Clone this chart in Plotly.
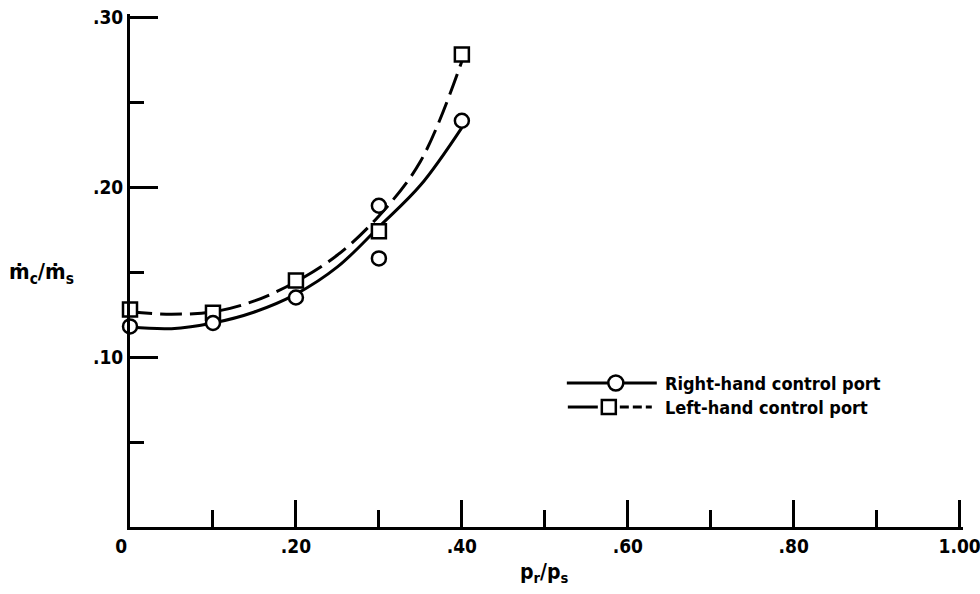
import plotly.graph_objects as go

# ---- data ----
p_ratio = [0.0, 0.1, 0.2, 0.3, 0.3, 0.4]
right_hand = [0.118, 0.120, 0.135, 0.189, 0.158, 0.239]
p_ratio_left = [0.0, 0.1, 0.2, 0.3, 0.4]
left_hand = [0.128, 0.126, 0.145, 0.174, 0.278]

# faired curves
curve_x = [0.0, 0.05, 0.1, 0.15, 0.2, 0.25, 0.3, 0.35, 0.4]
curve_right = [0.1176, 0.1167, 0.1200, 0.1265, 0.1370, 0.1530, 0.1765, 0.2010, 0.2350]
curve_left = [0.1266, 0.1252, 0.1266, 0.1330, 0.1443, 0.1600, 0.1830, 0.2150, 0.2740]

x_tickvals = [0, 0.2, 0.4, 0.6, 0.8, 1.0]
x_ticktext = ["0&nbsp;&nbsp;&nbsp;", ".20", ".40", ".60", ".80", "1.00"]
y_tickvals = [0.1, 0.2, 0.3]
y_ticktext = [".10", ".20", ".30"]

legend_names = ["Right-hand control port", "Left-hand control port"]

FONT = "DejaVu Sans Condensed, Liberation Sans Narrow, DejaVu Sans, sans-serif"
BLK = "black"

X_MAX, Y_MAX = 1.004, 0.3018

fig = go.Figure()
fig.add_trace(go.Scatter(x=curve_x, y=curve_right, mode="lines", line_shape="spline",
                         line=dict(color=BLK, width=3), showlegend=False, hoverinfo="skip"))
fig.add_trace(go.Scatter(x=curve_x, y=curve_left, mode="lines", line_shape="spline",
                         line=dict(color=BLK, width=3, dash="22px,8px"), showlegend=False,
                         hoverinfo="skip"))
fig.add_trace(go.Scatter(x=p_ratio_left, y=left_hand, mode="markers", name=legend_names[1],
                         marker=dict(symbol="square", size=14, color="white",
                                     line=dict(color=BLK, width=2.5)),
                         cliponaxis=False, showlegend=False))
fig.add_trace(go.Scatter(x=p_ratio, y=right_hand, mode="markers", name=legend_names[0],
                         marker=dict(symbol="circle", size=14, color="white",
                                     line=dict(color=BLK, width=2.5)),
                         cliponaxis=False, showlegend=False))

# ---- plot-area geometry (pixels) ----
L = 130
B = 527
PW = 830 * X_MAX          # 1.0 lands at x=960
PH = 510 * Y_MAX / 0.3    # .30 lands at y=17
T = B - PH

def px(xp):
    return (xp - L) / PW
def py(yp):
    return (B - yp) / PH

# ---- hand-drawn style legend ----
shapes = []
r1 = 383
shapes.append(dict(type="line", xref="paper", yref="paper", x0=px(567), x1=px(657),
                   y0=py(r1), y1=py(r1), line=dict(color=BLK, width=3)))
shapes.append(dict(type="circle", xref="paper", yref="paper", x0=px(608.5), x1=px(623.5),
                   y0=py(r1 + 7.5), y1=py(r1 - 7.5), fillcolor="white",
                   line=dict(color=BLK, width=2.5)))
r2 = 407
shapes.append(dict(type="line", xref="paper", yref="paper", x0=px(568), x1=px(598),
                   y0=py(r2), y1=py(r2), line=dict(color=BLK, width=3)))
shapes.append(dict(type="line", xref="paper", yref="paper", x0=px(620), x1=px(652),
                   y0=py(r2), y1=py(r2), line=dict(color=BLK, width=3, dash="9px,4px")))
shapes.append(dict(type="rect", xref="paper", yref="paper", x0=px(602), x1=px(616),
                   y0=py(r2 + 7), y1=py(r2 - 7), fillcolor="white",
                   line=dict(color=BLK, width=2.5)))

annotations = [
    dict(text=legend_names[0], xref="paper", yref="paper", x=px(663), y=py(r1),
         xanchor="left", yanchor="middle", showarrow=False,
         font=dict(family=FONT, size=18, color=BLK, weight="bold")),
    dict(text=legend_names[1], xref="paper", yref="paper", x=px(663), y=py(r2),
         xanchor="left", yanchor="middle", showarrow=False,
         font=dict(family=FONT, size=18, color=BLK, weight="bold")),
    dict(text="ṁ<sub>c</sub>/ṁ<sub>s</sub>", xref="paper", yref="paper", x=px(41), y=py(273),
         xanchor="center", yanchor="middle", showarrow=False,
         font=dict(family=FONT, size=22, color=BLK, weight="bold")),
    dict(text="p<sub>r</sub>/p<sub>s</sub>", xref="paper", yref="paper", x=px(545), y=py(573),
         xanchor="center", yanchor="middle", showarrow=False,
         font=dict(family=FONT, size=21, color=BLK, weight="bold")),
]

fig.update_layout(
    width=980, height=594,
    margin=dict(l=L, r=980 - L - PW, t=T, b=594 - B, autoexpand=False),
    paper_bgcolor="white", plot_bgcolor="white",
    showlegend=False,
    shapes=shapes, annotations=annotations,
    font=dict(family=FONT, color=BLK, size=19),
)
fig.update_xaxes(
    range=[0, X_MAX], showgrid=False, zeroline=False, automargin=False,
    showline=True, linecolor=BLK, linewidth=3,
    tickmode="array", tickvals=x_tickvals, ticktext=x_ticktext,
    ticks="inside", ticklen=27, tickwidth=2.5, tickcolor=BLK,
    ticklabeloverflow="allow",
    tickfont=dict(family=FONT, size=19, color=BLK, weight="bold"),
    minor=dict(tickmode="array", tickvals=[0.1, 0.3, 0.5, 0.7, 0.9], ticks="inside",
               ticklen=17, tickwidth=2.5, tickcolor=BLK, showgrid=False),
)
fig.update_yaxes(
    range=[0, Y_MAX], showgrid=False, zeroline=False, automargin=False,
    showline=True, linecolor=BLK, linewidth=3,
    tickmode="array", tickvals=y_tickvals, ticktext=y_ticktext,
    ticks="inside", ticklen=28, tickwidth=2.5, tickcolor=BLK,
    ticklabeloverflow="allow",
    tickfont=dict(family=FONT, size=19, color=BLK, weight="bold"),
    minor=dict(tickmode="array", tickvals=[0.05, 0.15, 0.25], ticks="inside",
               ticklen=14, tickwidth=2.5, tickcolor=BLK, showgrid=False),
)

fig.write_html("out.html", config={"displayModeBar": False},
               post_script="document.documentElement.style.margin='0';"
                           "document.body.style.margin='0';")
